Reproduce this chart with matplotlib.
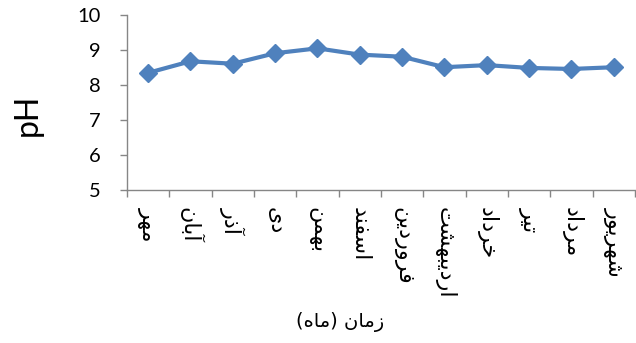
import matplotlib
matplotlib.use("Agg")
import matplotlib.pyplot as plt

# Persian month names, written in visual (left-to-right) order using Arabic presentation forms
months = [
    "\uFEAE\uFEEC\uFEE3",                          # مهر
    "\uFEE5\uFE8E\uFE91\uFE81",                    # آبان
    "\uFEAD\uFEAB\uFE81",                          # آذر
    "\uFBFC\uFEA9",                                # دی
    "\uFEE6\uFEE4\uFEEC\uFE91",                    # بهمن
    "\uFEAA\uFEE8\uFED4\uFEB3\uFE8D",              # اسفند
    "\uFEE6\uFBFE\uFEA9\uFEAD\uFEED\uFEAE\uFED3",  # فروردین
    "\uFE96\uFEB8\uFEEC\uFE92\uFBFE\uFEA9\uFEAD\uFE8D",  # اردیبهشت
    "\uFEA9\uFE8D\uFEA9\uFEAE\uFEA7",              # خرداد
    "\uFEAE\uFBFF\uFE97",                          # تیر
    "\uFEA9\uFE8D\uFEA9\uFEAE\uFEE3",              # مرداد
    "\uFEAD\uFEEE\uFBFE\uFEAE\uFEEC\uFEB7",        # شهریور
]
ph_values = [8.35, 8.68, 8.61, 8.91, 9.05, 8.87, 8.81, 8.51, 8.57, 8.49, 8.46, 8.51]
y_ticks = [5, 6, 7, 8, 9, 10]
x_label = "(\uFEE9\uFE8E\uFEE3) \uFEE5\uFE8E\uFEE3\uFEAF"   # زمان (ماه)
y_label = "pH"

fig = plt.figure(figsize=(6.36, 3.43), dpi=100)
ax = fig.add_axes([0.1997, 0.446, 0.7985, 0.51])

x = list(range(len(months)))
ax.plot(x, ph_values, color="#4F81BD", linewidth=3, marker="D", markersize=9.5,
        markerfacecolor="#4F81BD", markeredgecolor="#4F81BD", solid_joinstyle="miter")

ax.set_xlim(-0.5, len(months) - 0.5)
ax.set_ylim(5, 10)
ax.set_yticks(y_ticks)
ax.set_yticklabels([str(v) for v in y_ticks], fontsize=14.5, family=["Lato", "DejaVu Sans"])

ax.set_xticks(x)
ax.set_xticklabels(months, rotation=-90, fontsize=16, family=["DejaVu Sans"],
                   va="top", ha="center")
ax.set_xticks([i - 0.5 for i in range(len(months) + 1)], minor=True)
ax.tick_params(axis="x", which="major", length=0, pad=12)
ax.tick_params(axis="x", which="minor", length=5, color="#868686", width=1)
ax.tick_params(axis="y", length=5, color="#868686", width=1, pad=14)

for s in ["top", "right"]:
    ax.spines[s].set_visible(False)
for s in ["left", "bottom"]:
    ax.spines[s].set_color("#868686")
    ax.spines[s].set_linewidth(1)

fig.text(0.535, 0.06, x_label, fontsize=14, family=["DejaVu Sans"], ha="center", va="center")
fig.text(0.044, 0.665, y_label, fontsize=23, family=["Lato", "DejaVu Sans"],
         rotation=90, ha="center", va="center")

fig.savefig("out.png", dpi=100)
